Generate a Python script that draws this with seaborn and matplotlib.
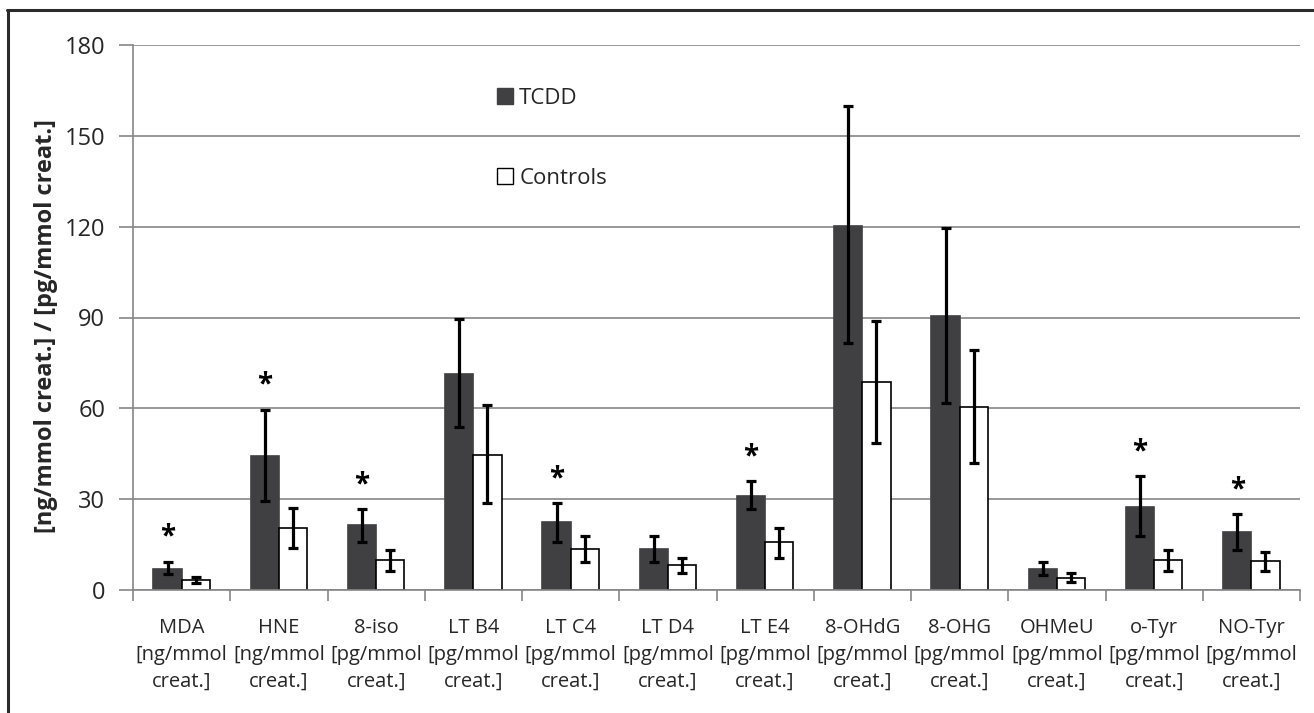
import numpy as np
import pandas as pd
import matplotlib
matplotlib.use("Agg")
import matplotlib.pyplot as plt
from matplotlib.patches import Patch
from matplotlib.lines import Line2D
import seaborn as sns

# ---- data ----
markers = ["MDA", "HNE", "8-iso", "LT B4", "LT C4", "LT D4", "LT E4",
           "8-OHdG", "8-OHG", "OHMeU", "o-Tyr", "NO-Tyr"]
units = ["[ng/mmol", "[ng/mmol", "[pg/mmol", "[pg/mmol", "[pg/mmol", "[pg/mmol",
         "[pg/mmol", "[pg/mmol", "[pg/mmol", "[pg/mmol", "[pg/mmol", "[pg/mmol"]
tcdd = [7.1, 44.2, 21.5, 71.3, 22.3, 13.4, 31.1, 120.3, 90.4, 7.1, 27.4, 19.0]
tcdd_lo = [5.3, 29.5, 16.0, 53.7, 15.9, 9.4, 26.9, 81.5, 61.7, 5.0, 17.7, 13.1]
tcdd_hi = [9.4, 59.6, 26.7, 89.6, 28.8, 17.9, 36.1, 159.7, 119.6, 9.4, 37.6, 25.0]
ctrl = [3.3, 20.6, 10.0, 44.6, 13.7, 8.25, 16.0, 68.8, 60.6, 4.1, 10.0, 9.6]
ctrl_lo = [2.2, 14.0, 6.4, 28.7, 9.3, 5.5, 10.6, 48.7, 41.8, 2.7, 6.4, 6.4]
ctrl_hi = [4.2, 27.2, 13.2, 61.0, 17.8, 10.7, 20.5, 88.8, 79.4, 5.6, 13.2, 12.4]
significant = [True, True, True, False, True, False, True, False, False, False, True, True]
groups = ["TCDD", "Controls"]
yticks = [0, 30, 60, 90, 120, 150, 180]
ylabel = "[ng/mmol creat.] / [pg/mmol creat.]"

labels = [f"{m}\n{u}\ncreat.]" for m, u in zip(markers, units)]
df = pd.DataFrame({
    "marker": labels * 2,
    "group": ["TCDD"] * len(markers) + ["Controls"] * len(markers),
    "value": tcdd + ctrl,
})

sns.set_style("white")
FONT = ["Open Sans", "DejaVu Sans"]
plt.rcParams["font.family"] = FONT

W, H = 1314, 713
fig = plt.figure(figsize=(W / 100, H / 100), dpi=100)
ax = fig.add_axes([133 / W, 1 - 590 / H, (1300 - 133) / W, (590 - 45) / H])

dark = "#404043"
sns.barplot(data=df, x="marker", y="value", hue="group", hue_order=groups,
            palette={"TCDD": dark, "Controls": "white"}, width=0.58, gap=0,
            errorbar=None, legend=False, ax=ax, linewidth=1.2)

edge = {"TCDD": dark, "Controls": "black"}
series = {"TCDD": (tcdd, tcdd_lo, tcdd_hi), "Controls": (ctrl, ctrl_lo, ctrl_hi)}
centers = {}
for g, cont in zip(groups, ax.containers):
    vals, lo, hi = series[g]
    xs = []
    for bar, v, l, h in zip(cont, vals, lo, hi):
        bar.set_edgecolor(edge[g])
        bar.set_linewidth(1.2)
        x = bar.get_x() + bar.get_width() / 2
        xs.append(x)
        ax.errorbar(x, v, yerr=[[v - l], [h - v]], fmt="none", ecolor="black",
                    elinewidth=2.3, capsize=3.8, capthick=2.3, zorder=5)
    centers[g] = xs

# significance stars
for x, h, s in zip(centers["TCDD"], tcdd_hi, significant):
    if s:
        ax.text(x, h + 8, "*", ha="center", va="center", fontsize=20,
                fontweight="bold", color="black")

# axes styling
gray = "#868686"
ax.set_ylim(0, 180)
ax.set_xlim(-0.5, len(markers) - 0.5)
ax.set_yticks(yticks)
ax.yaxis.grid(True, color=gray, linewidth=1.2)
ax.set_axisbelow(True)
for s in ["top", "right"]:
    ax.spines[s].set_visible(False)
for s in ["left", "bottom"]:
    ax.spines[s].set_color(gray)
    ax.spines[s].set_linewidth(1.2)
ax.tick_params(axis="y", which="major", length=10, width=1.2, color=gray,
               direction="out", labelsize=17, pad=10, left=True)
ax.set_xticks(range(len(markers)))
ax.set_xticklabels(labels, fontsize=14.5, linespacing=1.48)
ax.tick_params(axis="x", which="major", length=0, pad=20)
ax.set_xticks(np.arange(-0.5, len(markers), 1.0), minor=True)
ax.tick_params(axis="x", which="minor", length=8, width=1.2, color=gray,
               direction="out", bottom=True)
ax.set_xlabel("")
ax.set_ylabel(ylabel, fontsize=17, fontweight="bold")
ax.yaxis.set_label_coords((46 - 133) / 1167, 0.485)
ax.yaxis.label.set_verticalalignment("center")

# legend
handles = [Patch(facecolor=dark, edgecolor=dark), Patch(facecolor="white", edgecolor="black")]
fig.legend(handles, groups, loc="upper left", bbox_to_anchor=(497 / W, 1 - 88 / H),
           frameon=False, fontsize=16, labelspacing=2.65, handlelength=0.7,
           handleheight=0.7, handletextpad=0.3, borderpad=0, borderaxespad=0)

# outer frame (left and top edges visible)
fig.add_artist(Line2D([7.5 / W, 7.5 / W], [0, 1 - 10 / H], transform=fig.transFigure,
                      color="#2b2b2b", linewidth=2.2))
fig.add_artist(Line2D([6.5 / W, 1], [1 - 10 / H, 1 - 10 / H], transform=fig.transFigure,
                      color="#2b2b2b", linewidth=2.2))

fig.savefig("out.png", dpi=100)
